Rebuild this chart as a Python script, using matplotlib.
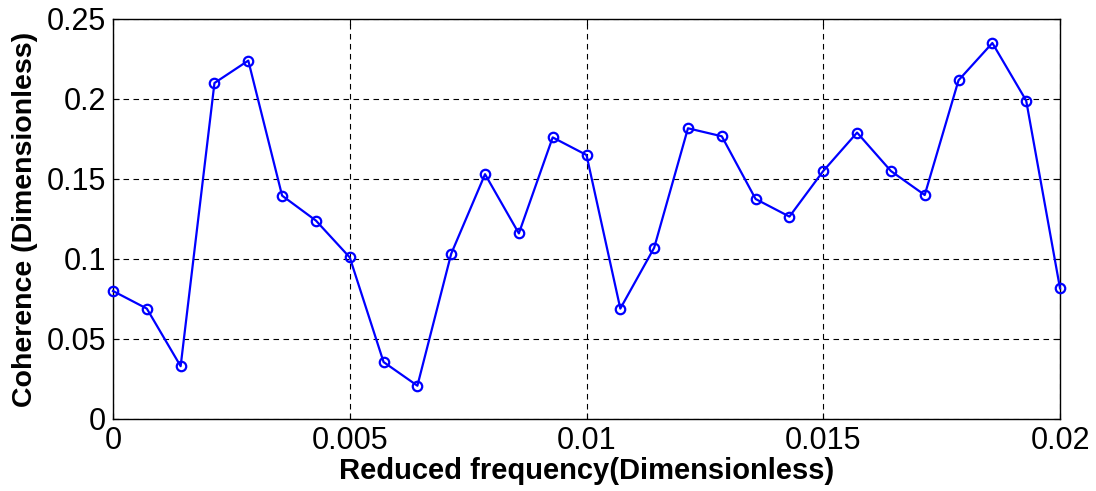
import numpy as np
import matplotlib
matplotlib.use("Agg")
import matplotlib.pyplot as plt

plt.rcParams['font.family'] = ['Liberation Sans', 'DejaVu Sans']

n_points = 29
freq = np.linspace(0.0, 0.02, n_points)
coherence = [0.080, 0.069, 0.033, 0.210, 0.224, 0.1396, 0.124, 0.101,
             0.0356, 0.0208, 0.1033, 0.153, 0.116, 0.176, 0.165, 0.069,
             0.107, 0.1817, 0.1767, 0.1375, 0.1265, 0.155, 0.179, 0.155,
             0.140, 0.2117, 0.235, 0.199, 0.0817]
xticks = [0, 0.005, 0.01, 0.015, 0.02]
xticklabels = ['0', '0.005', '0.01', '0.015', '0.02']
yticks = [0, 0.05, 0.1, 0.15, 0.2, 0.25]
yticklabels = ['0', '0.05', '0.1', '0.15', '0.2', '0.25']

fig = plt.figure(figsize=(10.96, 4.91), dpi=100)
ax = fig.add_axes([113/1096, 72/491, (1060-113)/1096, (419-19)/491])
ax.plot(freq, coherence, '-o', color='#0000ff', lw=1.6, markersize=6.8,
        markerfacecolor='none', markeredgewidth=1.6, clip_on=False, zorder=3)
ax.set_xlim(0, 0.02)
ax.set_ylim(0, 0.25)
ax.set_xticks(xticks)
ax.set_xticklabels(xticklabels)
ax.set_yticks(yticks)
ax.set_yticklabels(yticklabels)
ax.tick_params(direction='in', length=4, width=0.8, labelsize=22, pad=5,
               top=True, right=True)
ax.grid(True, color='black', linestyle=(0, (5, 4)), linewidth=0.8)
for s in ax.spines.values():
    s.set_linewidth(1.0)
ax.set_xlabel('Reduced frequency(Dimensionless)', fontsize=21, fontweight='bold', labelpad=1)
ax.set_ylabel('Coherence (Dimensionless)', fontsize=20.5, fontweight='bold', labelpad=6)
fig.savefig('out.png', dpi=100)
